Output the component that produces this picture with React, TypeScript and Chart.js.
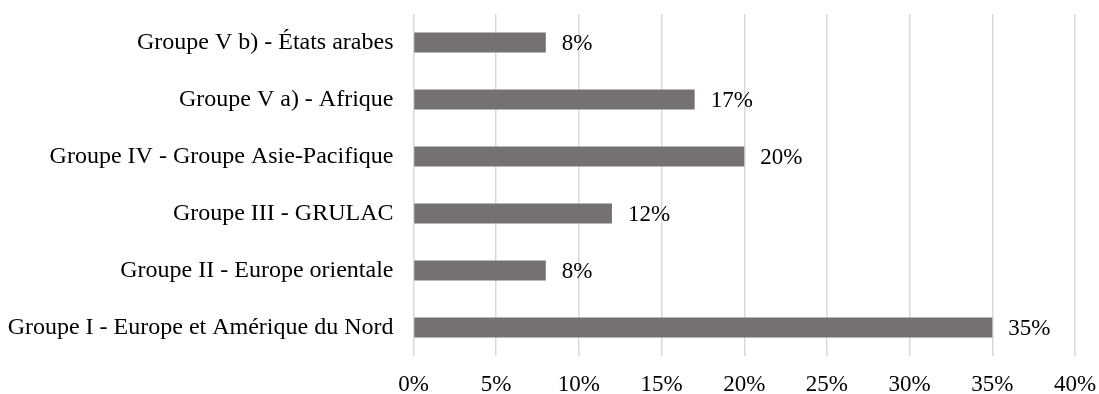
import React, { useEffect, useRef } from "react";
import { Chart, registerables } from "chart.js";

Chart.register(...registerables);

// Regional groups, listed top to bottom
const categories: string[] = [
  "Groupe V b) - États arabes",
  "Groupe V a) - Afrique",
  "Groupe IV - Groupe Asie-Pacifique",
  "Groupe III - GRULAC",
  "Groupe II - Europe orientale",
  "Groupe I - Europe et Amérique du Nord",
];

// Share of each group, in percent
const shares: number[] = [8, 17, 20, 12, 8, 35];

// Value axis ticks
const tickMax = 40;
const tickStep = 5;

const FONT = "'Liberation Serif', 'Times New Roman', serif";
const BAR_COLOR = "#767171";
const GRID_COLOR = "#d9d9d9";
const TEXT_COLOR = "#000000";

// Writes the percentage just past the end of each bar
const valueLabels = {
  id: "valueLabels",
  afterDatasetsDraw(chart: any) {
    const { ctx } = chart;
    const meta = chart.getDatasetMeta(0);
    ctx.save();
    ctx.font = `23px ${FONT}`;
    ctx.fillStyle = TEXT_COLOR;
    ctx.textAlign = "left";
    ctx.textBaseline = "middle";
    meta.data.forEach((bar: any, i: number) => {
      ctx.fillText(`${shares[i]}%`, bar.x + 16, bar.y + 1);
    });
    ctx.restore();
  },
};

// Keeps the plot area fixed: no extra room reserved for overhanging labels
const noScalePadding = (scale: any) => {
  scale.paddingTop = 0;
  scale.paddingBottom = 0;
  scale.paddingLeft = 0;
  scale.paddingRight = 0;
};

export default function App() {
  const canvasRef = useRef<HTMLCanvasElement | null>(null);

  useEffect(() => {
    const canvas = canvasRef.current;
    if (!canvas) return;
    const chart = new Chart(canvas, {
      type: "bar",
      data: {
        labels: categories,
        datasets: [
          {
            data: shares,
            backgroundColor: BAR_COLOR,
            borderWidth: 0,
            categoryPercentage: 1,
            barPercentage: 20 / 57,
          },
        ],
      },
      options: {
        indexAxis: "y",
        animation: false,
        responsive: false,
        events: [],
        layout: { padding: { top: 14, right: 24, left: 0, bottom: 0 } },
        plugins: {
          legend: { display: false },
          tooltip: { enabled: false },
        },
        scales: {
          x: {
            min: 0,
            max: tickMax,
            border: { display: false },
            grid: {
              color: GRID_COLOR,
              lineWidth: 1.5,
              drawTicks: false,
            },
            ticks: {
              stepSize: tickStep,
              padding: 15,
              color: TEXT_COLOR,
              font: { family: FONT, size: 23 },
              callback: (v: any) => `${v}%`,
            },
            afterFit: (scale: any) => {
              scale.height = 38;
              noScalePadding(scale);
            },
          },
          y: {
            border: { display: false },
            grid: { display: false, drawTicks: false },
            ticks: {
              padding: 20,
              color: TEXT_COLOR,
              font: { family: FONT, size: 24 },
            },
            afterFit: (scale: any) => {
              scale.width = 413.5;
              noScalePadding(scale);
            },
          },
        },
      },
      plugins: [valueLabels],
    });
    return () => chart.destroy();
  }, []);

  return (
    <div style={{ position: "absolute", left: 0, top: 0, width: 1099, height: 394, background: "#fff" }}>
      <canvas ref={canvasRef} width={1099} height={394} style={{ display: "block" }} />
    </div>
  );
}
